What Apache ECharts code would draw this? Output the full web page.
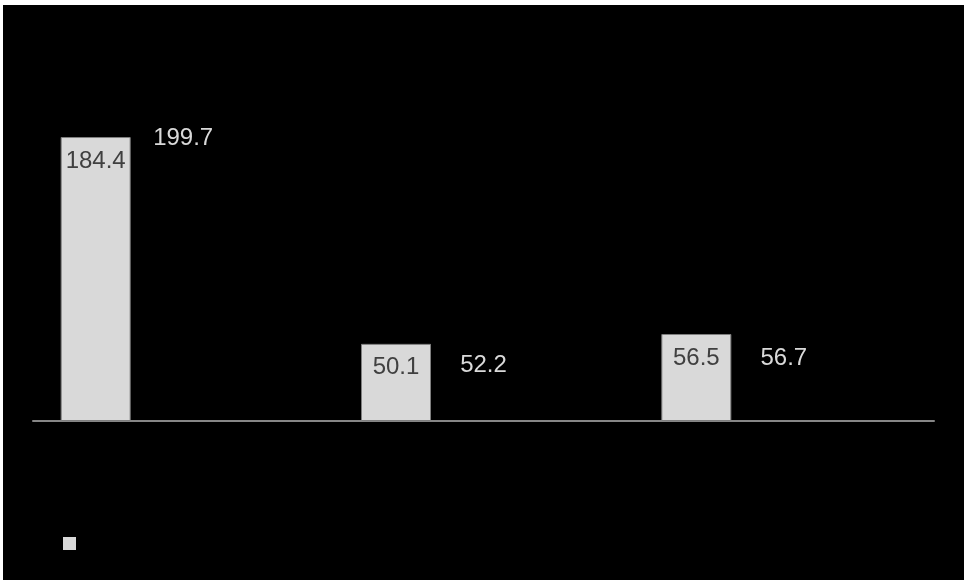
<!DOCTYPE html>
<html>
<head>
<meta charset="utf-8">
<script src="https://cdn.jsdelivr.net/npm/echarts@6/dist/echarts.min.js"></script>
<style>
  html, body { margin: 0; padding: 0; background: #ffffff; width: 969px; height: 583px; overflow: hidden; }
  #chart { position: absolute; left: 3px; top: 5px; width: 961px; height: 575px; background: #000000; }
</style>
</head>
<body>
<div id="chart"></div>
<script>
const categories = ['A', 'B', 'C'];
const seriesA = [184.4, 50.1, 56.5];
const seriesB = [199.7, 52.2, 56.7];

const chart = echarts.init(document.getElementById('chart'), null, { renderer: 'canvas' });
chart.setOption({
  backgroundColor: '#000000',
  animation: false,
  grid: { left: 30, right: 30, top: 31, bottom: 159 },
  legend: {
    left: 55, top: 527,
    icon: 'rect', itemWidth: 13, itemHeight: 13,
    data: ['A'],
    itemStyle: { borderWidth: 0, color: '#d9d9d9' },
    formatter: function () { return ''; },
    textStyle: { color: '#d9d9d9' }
  },
  xAxis: {
    type: 'category',
    data: categories,
    axisLine: { show: true, lineStyle: { color: '#868686', width: 2 } },
    axisTick: { show: false },
    axisLabel: { show: false },
    splitLine: { show: false }
  },
  yAxis: {
    type: 'value', min: 0, max: 250,
    show: false,
    splitLine: { show: false }
  },
  series: [
    {
      name: 'A', type: 'bar', data: seriesA,
      barWidth: 70, barGap: '150%',
      itemStyle: { color: '#d9d9d9', borderColor: '#7f7f7f', borderWidth: 1 },
      label: {
        show: true, position: 'insideTop', distance: 12,
        color: '#404040', fontFamily: 'Liberation Sans', fontSize: 24
      }
    },
    {
      name: 'B', type: 'bar', data: seriesB,
      barWidth: 70,
      itemStyle: { color: 'rgba(0,0,0,0)' },
      label: {
        show: true, position: 'insideTop', distance: 13, offset: [-87.5, 0],
        color: '#d9d9d9', fontFamily: 'Liberation Sans', fontSize: 24
      }
    }
  ]
});
</script>
</body>
</html>
